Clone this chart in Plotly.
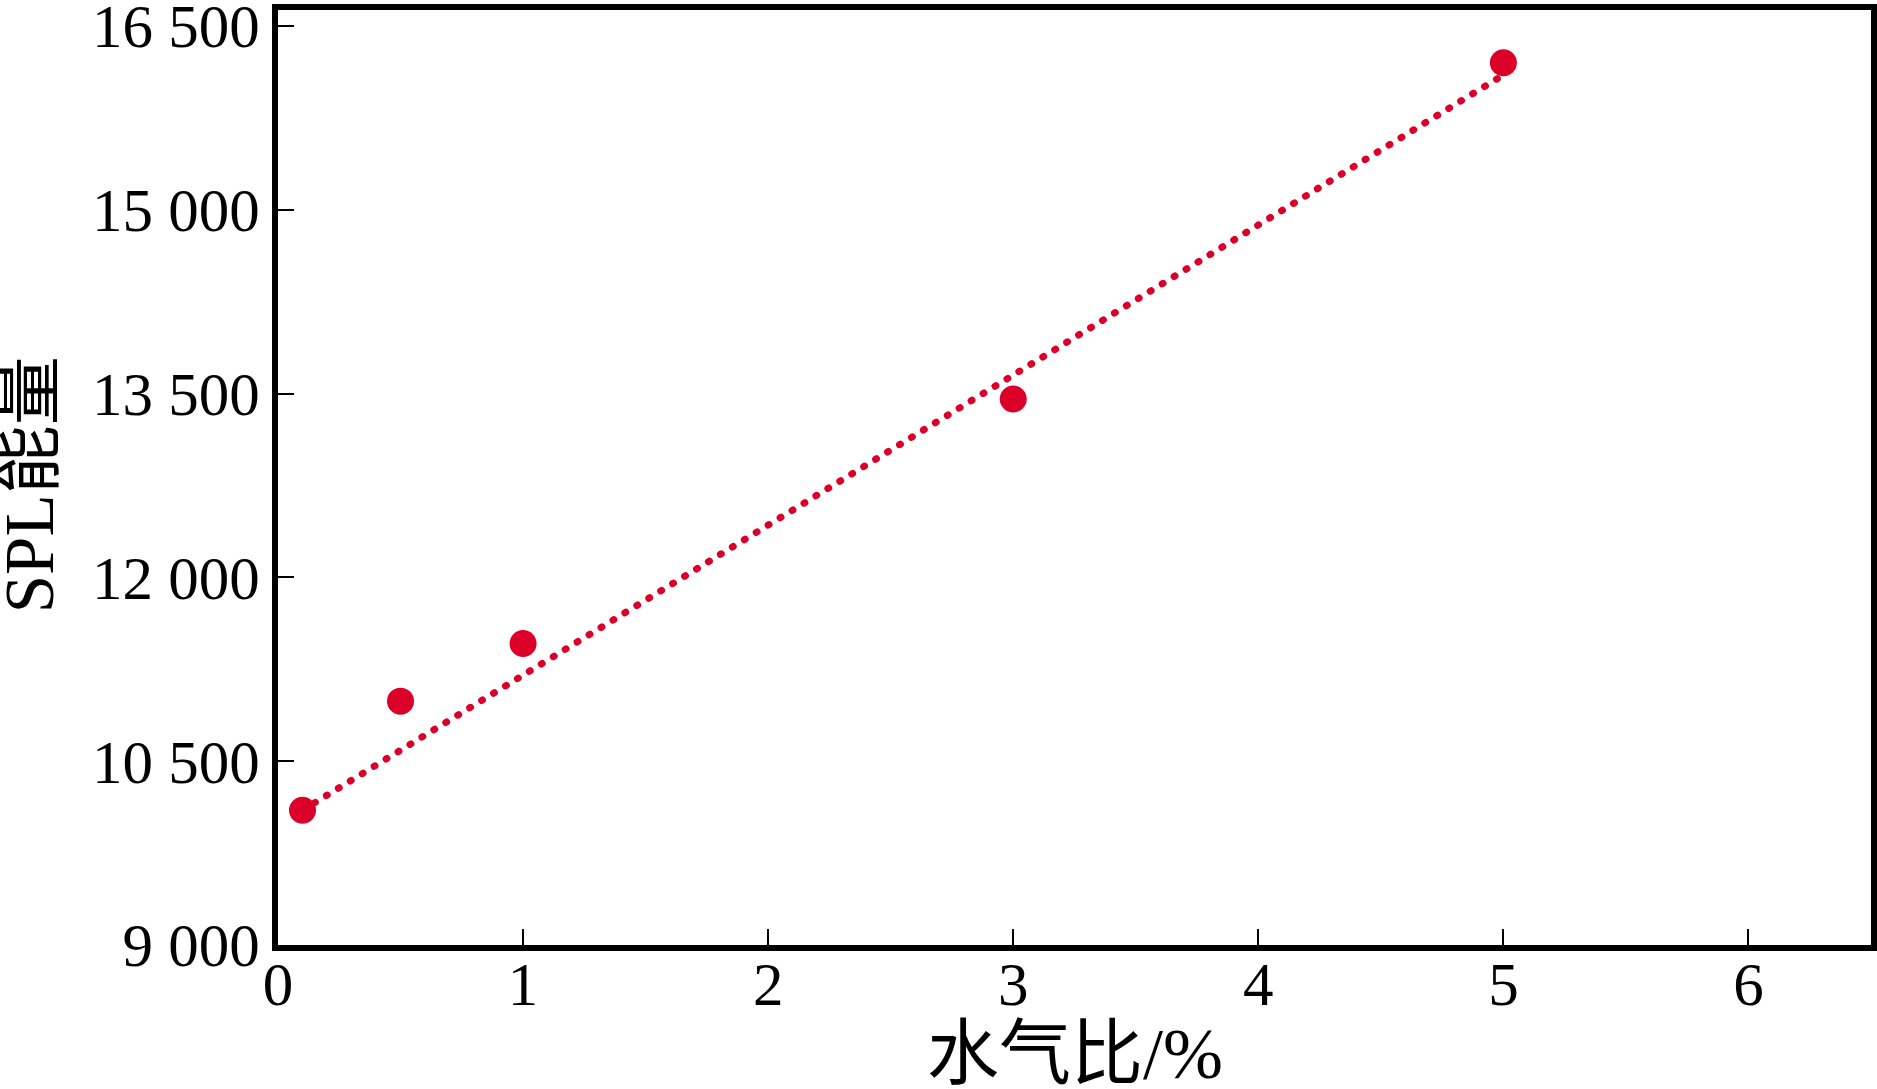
import plotly.graph_objects as go

# ---- data ----
water_ratio = [0.1, 0.5, 1, 3, 5]
spl_energy = [10100, 10990, 11460, 13455, 16200]

trend_x = [0.1, 5.0]
trend_y = [10100, 16100]

x_tick_vals = [0, 1, 2, 3, 4, 5, 6]
x_tick_labels = ["0", "1", "2", "3", "4", "5", "6"]
y_tick_vals = [9000, 10500, 12000, 13500, 15000, 16500]
y_tick_labels = ["9 000", "10 500", "12 000", "13 500", "15 000", "16 500"]

x_title = "水气比/%"
y_title = "SPL能量"

RED = "#DC0028"
FONT = "Liberation Serif, Times New Roman, Noto Sans CJK SC, serif"

fig = go.Figure()
fig.add_trace(go.Scatter(
    x=trend_x, y=trend_y, mode="lines",
    line=dict(color=RED, width=7, dash="1px,13px"),
    hoverinfo="skip", showlegend=False,
))
fig.add_trace(go.Scatter(
    x=water_ratio, y=spl_energy, mode="markers",
    marker=dict(color=RED, size=27, line=dict(width=0)),
    showlegend=False,
))

axis_common = dict(
    showline=True, linewidth=6, linecolor="black", mirror=True,
    showgrid=False, zeroline=False,
    ticks="inside", ticklen=16, tickwidth=2, tickcolor="black",
    tickfont=dict(family=FONT, size=61, color="black"),
    ticklabeloverflow="allow",
)

fig.update_xaxes(
    range=[0, 6.5], tickmode="array", tickvals=x_tick_vals, ticktext=x_tick_labels,
    ticklabelstandoff=-19,
    **axis_common,
)
fig.update_yaxes(
    range=[9000, 16630], tickmode="array", tickvals=y_tick_vals, ticktext=y_tick_labels,
    **axis_common,
)

fig.add_annotation(
    text=x_title, xref="paper", yref="paper", x=0.5005, y=-0.117,
    xanchor="center", yanchor="middle", showarrow=False,
    font=dict(family=FONT, size=72, color="black"),
)
fig.add_annotation(
    text=y_title, xref="paper", yref="paper", x=-0.1555, y=0.492,
    xanchor="center", yanchor="middle", showarrow=False, textangle=-90,
    font=dict(family=FONT, size=69, color="black"),
)

fig.update_layout(
    width=1877, height=1089,
    margin=dict(l=278, r=6, t=10, b=144, autoexpand=False),
    plot_bgcolor="white", paper_bgcolor="white",
    font=dict(family=FONT, color="black"),
    showlegend=False,
)

post = """
document.body.style.margin = '0';
document.body.style.padding = '0';
document.querySelectorAll('.js-line').forEach(function(p){
  p.style.strokeLinecap = 'round';
});
"""

fig.write_html("out.html", post_script=post, config={"displayModeBar": False})
